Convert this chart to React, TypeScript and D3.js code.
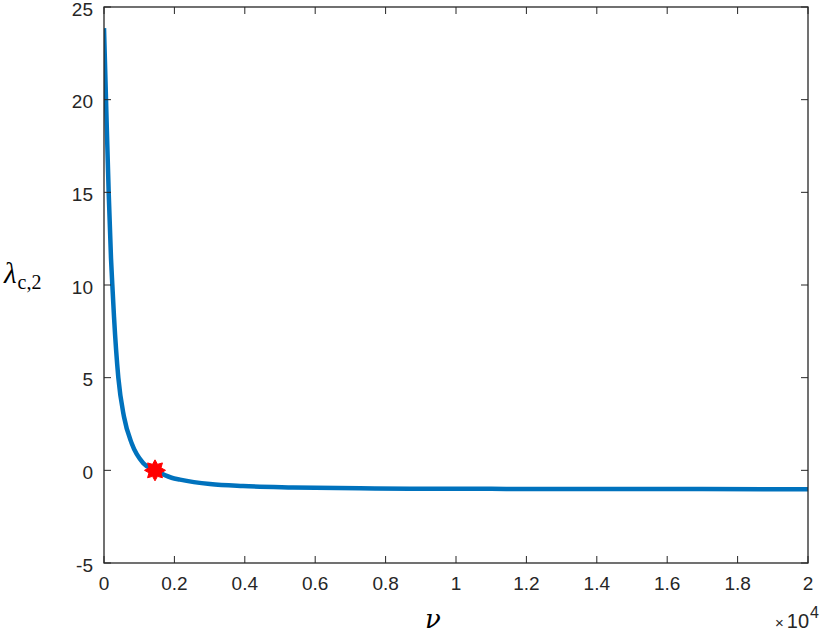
import React from 'react';
import * as d3 from 'd3';

// curve
const nuValues = [0, 57, 133, 199, 237, 284, 407, 568, 786, 1117, 1449, 1920, 2160, 3010, 3950, 5370, 7270, 8690, 11000, 14000, 17000, 20000];
const lambdaValues = [23.86, 20.0, 15.0, 11.44, 10.0, 8.29, 5.0, 2.89, 1.46, 0.38, 0.0, -0.4, -0.5, -0.74, -0.85, -0.92, -0.97, -0.99, -1.0, -1.01, -1.01, -1.02];
const starNu = 1449;
const starLambda = 0;
const xTicks = [0, 2000, 4000, 6000, 8000, 10000, 12000, 14000, 16000, 18000, 20000];
const yTicks = [-5, 0, 5, 10, 15, 20, 25];

const axisColor = '#262626';
const lineColor = '#0072BD';
const font = '"Liberation Sans", Arial, Helvetica, sans-serif';

function starPath(cx: number, cy: number, outer: number, inner: number, n: number) {
  let pts: string[] = [];
  for (let i = 0; i < n * 2; i++) {
    let r = i % 2 === 0 ? outer : inner;
    let a = -Math.PI / 2 + (i * Math.PI) / n;
    pts.push(`${cx + r * Math.cos(a)},${cy + r * Math.sin(a)}`);
  }
  return 'M' + pts.join('L') + 'Z';
}

export default function App() {
  const left = 104, right = 808, top = 7, bottom = 563;
  const x = d3.scaleLinear().domain([0, 20000]).range([left, right]);
  const y = d3.scaleLinear().domain([-5, 25]).range([bottom, top]);
  const tickLen = 7;

  const line = d3.line<number>()
    .x((d, i) => x(nuValues[i]))
    .y((d) => y(d))
    .curve(d3.curveMonotoneX);

  return (
    <div style={{ position: 'absolute', left: 0, top: 0 }}>
      <svg width={831} height={635} style={{ display: 'block', background: 'white' }}>
        <defs>
          <clipPath id="plotclip">
            <rect x={left} y={top} width={right - left} height={bottom - top} />
          </clipPath>
        </defs>
        <g clipPath="url(#plotclip)">
          <path d={line(lambdaValues) || ''} fill="none" stroke={lineColor} strokeWidth={4.5} strokeLinejoin="round" />
        </g>
        <path d={starPath(x(starNu), y(starLambda), 10.5, 6.5, 8)} fill="#ff0000" stroke="#ff0000" strokeWidth={1} />

        {/* box */}
        <rect x={left} y={top} width={right - left} height={bottom - top} fill="none" stroke={axisColor} strokeWidth={1.3} />

        {xTicks.map((t, i) => (
          <g key={'x' + i}>
            <line x1={x(t)} x2={x(t)} y1={bottom} y2={bottom - tickLen} stroke={axisColor} strokeWidth={1} />
            <line x1={x(t)} x2={x(t)} y1={top} y2={top + tickLen} stroke={axisColor} strokeWidth={1} />
            <text x={x(t)} y={590} textAnchor="middle" fontFamily={font} fontSize={19} fill={axisColor}>
              {d3.format('~g')(t / 10000)}
            </text>
          </g>
        ))}
        {yTicks.map((t, i) => (
          <g key={'y' + i}>
            <line x1={left} x2={left + tickLen} y1={y(t)} y2={y(t)} stroke={axisColor} strokeWidth={1} />
            <line x1={right} x2={right - tickLen} y1={y(t)} y2={y(t)} stroke={axisColor} strokeWidth={1} />
            <text x={93} y={y(t) + 8.5} textAnchor="end" fontFamily={font} fontSize={19} fill={axisColor}>
              {t}
            </text>
          </g>
        ))}

        {/* exponent */}
        <text x={775} y={628} fontFamily={font} fill={axisColor}>
          <tspan fontSize={15}>×</tspan>
          <tspan fontSize={20} dx={3}>10</tspan>
          <tspan fontSize={16} dy={-10} dx={1}>4</tspan>
        </text>

        {/* axis labels */}
        <text x={433} y={628} textAnchor="middle" fontFamily='"DejaVu Serif", "Liberation Serif", serif' fontStyle="italic" fontSize={26} fill="#000">ν</text>
        <text x={4} y={283} fontFamily='"Liberation Serif", "DejaVu Serif", serif' fill="#000">
          <tspan fontSize={29} fontStyle="italic">λ</tspan>
          <tspan fontSize={20} dy={6} dx={1}>c,2</tspan>
        </text>
      </svg>
    </div>
  );
}
